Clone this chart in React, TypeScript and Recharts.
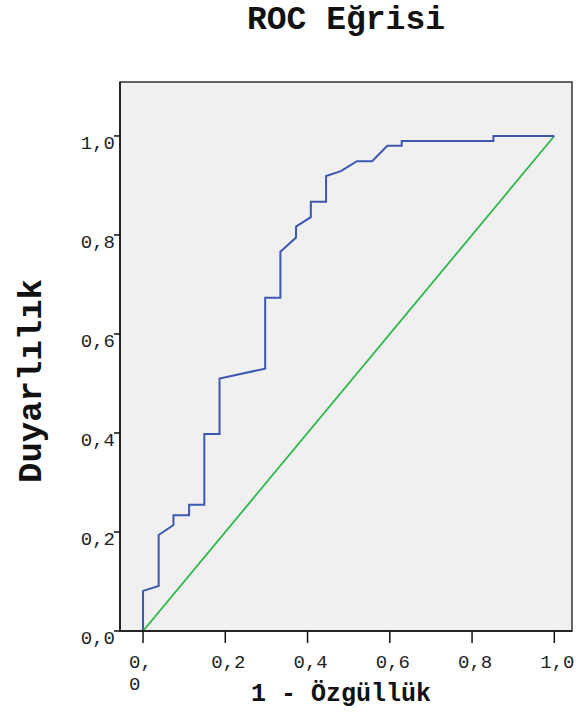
import React from 'react';
import {
  LineChart,
  Line,
  XAxis,
  YAxis,
  CartesianGrid,
  ReferenceArea,
} from 'recharts';

// ROC curve: 1 - specificity vs sensitivity
const fpr = [
  0, 0, 0.038, 0.038, 0.074, 0.074, 0.112, 0.112, 0.149, 0.149, 0.186, 0.186,
  0.297, 0.297, 0.334, 0.334, 0.372, 0.372, 0.408, 0.408, 0.445, 0.445, 0.481,
  0.52, 0.557, 0.594, 0.629, 0.629, 0.852, 0.852, 1.0,
];
const tpr = [
  0, 0.081, 0.091, 0.194, 0.214, 0.234, 0.234, 0.255, 0.255, 0.398, 0.398, 0.51,
  0.53, 0.673, 0.673, 0.766, 0.795, 0.817, 0.836, 0.867, 0.867, 0.919, 0.929,
  0.949, 0.949, 0.98, 0.98, 0.99, 0.99, 1.0, 1.0,
];
const refX = [0, 1];
const refY = [0, 1];
const ticks = [0, 0.2, 0.4, 0.6, 0.8, 1.0];

const title = 'ROC Eğrisi';
const xTitle = '1 - Özgüllük';
const yTitle = 'Duyarlılık';

const rocData = fpr.map((x, i) => ({ x, y: tpr[i] }));
const refData = refX.map((x, i) => ({ x, y: refY[i] }));

const xDomain = [-0.056, 1.043];
const yDomain = [0, 1.109];

const mono = '"Liberation Mono", "Courier New", monospace';
const fmt = (v: number) => v.toFixed(1).replace('.', ',');

const XTick = (props: any) => {
  const { x, y, payload } = props;
  const label = fmt(payload.value);
  if (payload.value === 0) {
    // the first label wraps onto two lines in the original
    return (
      <text x={x - 14} y={y + 25} fontFamily={mono} fontSize={19} fill="#222">
        <tspan x={x - 14}>0,</tspan>
        <tspan x={x - 14} dy={22}>0</tspan>
      </text>
    );
  }
  return (
    <text x={x - 14} y={y + 25} fontFamily={mono} fontSize={19} fill="#222">
      {label}
    </text>
  );
};

const YTick = (props: any) => {
  const { x, y, payload } = props;
  return (
    <text x={x + 1} y={y + 13} textAnchor="end" fontFamily={mono} fontSize={19} fill="#222">
      {fmt(payload.value)}
    </text>
  );
};

export default function App() {
  return (
    <div style={{ position: 'absolute', left: 0, top: 0, width: 576, height: 712, background: '#fff' }}>
      <LineChart
        width={576}
        height={712}
        margin={{ top: 82, right: 4, left: 60, bottom: 41 }}
      >
        <CartesianGrid fill="#f0f0f0" horizontal={false} vertical={false} />
        <ReferenceArea
          x1={xDomain[0]}
          x2={xDomain[1]}
          y1={yDomain[0]}
          y2={yDomain[1]}
          fill="none"
          fillOpacity={0}
          stroke="#333"
          strokeWidth={1.5}
        />
        <XAxis
          type="number"
          dataKey="x"
          domain={xDomain}
          allowDataOverflow
          ticks={ticks}
          tickSize={12}
          tickMargin={0}
          height={40}
          stroke="#111"
          tickLine={{ stroke: '#111', strokeWidth: 1.5 }}
          axisLine={{ stroke: '#111', strokeWidth: 1.5 }}
          tick={<XTick />}
        />
        <YAxis
          type="number"
          domain={yDomain}
          allowDataOverflow
          ticks={ticks}
          tickSize={6}
          tickMargin={0}
          width={60}
          stroke="#111"
          tickLine={{ stroke: '#111', strokeWidth: 1.5 }}
          axisLine={{ stroke: '#111', strokeWidth: 1.5 }}
          tick={<YTick />}
        />
        <Line
          data={refData}
          dataKey="y"
          type="linear"
          stroke="#2eb84b"
          strokeWidth={1.8}
          dot={false}
          isAnimationActive={false}
        />
        <Line
          data={rocData}
          dataKey="y"
          type="linear"
          stroke="#3d58b0"
          strokeWidth={2}
          dot={false}
          isAnimationActive={false}
        />
      </LineChart>
      <svg
        width={576}
        height={712}
        style={{ position: 'absolute', left: 0, top: 0, pointerEvents: 'none' }}
      >
        <text x={346} y={29} textAnchor="middle" fontFamily={mono} fontWeight="bold" fontSize={33} fill="#111">
          {title}
        </text>
        <text x={341} y={701} textAnchor="middle" fontFamily={mono} fontWeight="bold" fontSize={25} fill="#111">
          {xTitle}
        </text>
        <text
          x={0}
          y={0}
          transform="translate(41 381) rotate(-90)"
          textAnchor="middle"
          fontFamily={mono}
          fontWeight="bold"
          fontSize={34}
          fill="#111"
        >
          {yTitle}
        </text>
      </svg>
    </div>
  );
}
